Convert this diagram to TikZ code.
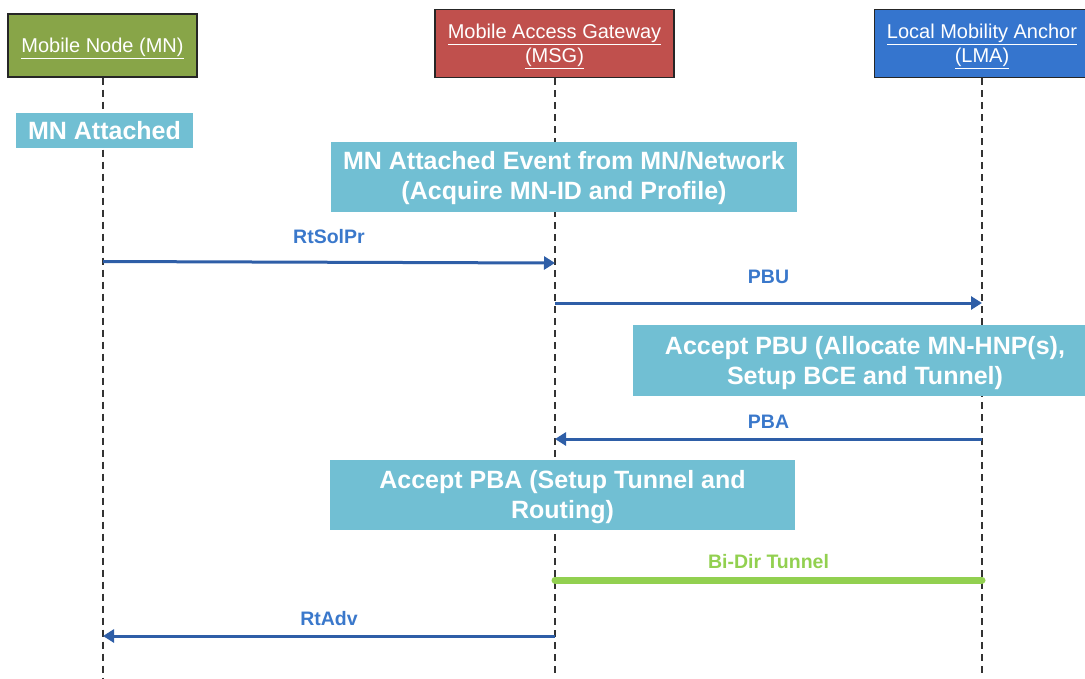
\documentclass[tikz,border=0pt]{standalone}
\usepackage{fontspec}
\setmainfont{Liberation Sans}
\usetikzlibrary{arrows.meta}
\definecolor{mngreen}{HTML}{88A548}
\definecolor{msgred}{HTML}{C0504D}
\definecolor{lmablue}{HTML}{3575CE}
\definecolor{evcyan}{HTML}{71BFD3}
\definecolor{arrblue}{HTML}{2E5EA7}
\definecolor{lblblue}{HTML}{3A78CB}
\definecolor{tungreen}{HTML}{92D050}
\tikzset{
  header/.style={draw=black!85, line width=1.2pt, inner sep=0pt},
  htext/.style={text=white, align=center, inner sep=0pt,
    font=\fontsize{20}{24}\selectfont},
  event/.style={fill=evcyan, text=white, align=center, inner sep=0pt,
    font=\fontsize{25}{30}\selectfont\bfseries},
  lifeline/.style={black!80, line width=1.1pt, dash pattern=on 7pt off 5pt},
  msg/.style={arrblue, line width=3pt, -{Triangle[length=11pt,width=13pt]}},
  msglabel/.style={text=lblblue, font=\fontsize{19.5}{22}\selectfont\bfseries},
  tunnel/.style={tungreen, line width=7pt, line cap=round},
  tunlabel/.style={text=tungreen, font=\fontsize{19.5}{22}\selectfont\bfseries}
}
\begin{document}
\begin{tikzpicture}[x=1pt,y=-1pt]
\useasboundingbox (0,0) rectangle (1085,678);
% headers
\node[header, fill=mngreen, minimum width=189pt, minimum height=63pt] (mn) at (102.5,45.5) {};
\node[htext] (mntext) at (102.5,48) {\underline{Mobile Node (MN)}};
\node[header, fill=msgred, minimum width=239pt, minimum height=68pt] (msg) at (554.5,43.5) {};
\node[htext] (msgtext) at (554.5,46.5) {\underline{Mobile Access Gateway}\\\underline{(MSG)}};
\node[header, fill=lmablue, minimum width=216pt, minimum height=68pt, anchor=west] (lma) at (874,43.5) {};
\node[htext] (lmatext) at (982,46.5) {\underline{Local Mobility Anchor}\\\underline{(LMA)}};
% lifeline ends
\coordinate (mnend) at (103,678);
\coordinate (msgend) at (555,678);
\coordinate (lmaend) at (982,678);
\draw[lifeline] (mn.south -| mnend) -- (mnend);
\draw[lifeline] (msg.south -| msgend) -- (msgend);
\draw[lifeline] (lma.south -| lmaend) -- (lmaend);
% events
\node[event, minimum width=177pt, minimum height=35pt] (att) at (104.5,130.5) {MN Attached};
\node[event, minimum width=466pt, minimum height=70pt] (ev) at (564,177) {};
\node[event] (evtext) at (564,178) {MN Attached Event from MN/Network\\(Acquire MN-ID and Profile)};
\node[event, minimum width=465pt, minimum height=71pt] (apbu) at (865,360.5) {};
\node[event] (apbutext) at (865,363) {Accept PBU (Allocate MN-HNP(s),\\Setup BCE and Tunnel)};
\node[event, minimum width=465pt, minimum height=70pt] (apba) at (562.5,495) {};
\node[event] (apbatext) at (562.5,497) {Accept PBA (Setup Tunnel and\\Routing)};
% message points
\coordinate (mn1) at (103,261.5);
\coordinate (msg1) at (555,263);
\coordinate (msg2) at (555,303);
\coordinate (lma2) at (982,303);
\coordinate (lma3) at (982,439);
\coordinate (msg3) at (555,439);
\coordinate (msg4) at (555,580);
\coordinate (lma4) at (982,580);
\coordinate (msg5) at (555,636);
\coordinate (mn5) at (103,636);
% messages
\draw[msg] (mn1) -- node[msglabel, above=14pt] (l1) {RtSolPr} (msg1);
\draw[msg] (msg2) -- node[msglabel, above=14pt] (l2) {PBU} (lma2);
\draw[msg] (lma3) -- node[msglabel, above=6pt] (l3) {PBA} (msg3);
\draw[tunnel] (msg4) -- node[tunlabel, above=4pt] (l4) {Bi-Dir Tunnel} (lma4);
\draw[msg] (msg5) -- node[msglabel, above=5pt] (l5) {RtAdv} (mn5);
\end{tikzpicture}
\end{document}
